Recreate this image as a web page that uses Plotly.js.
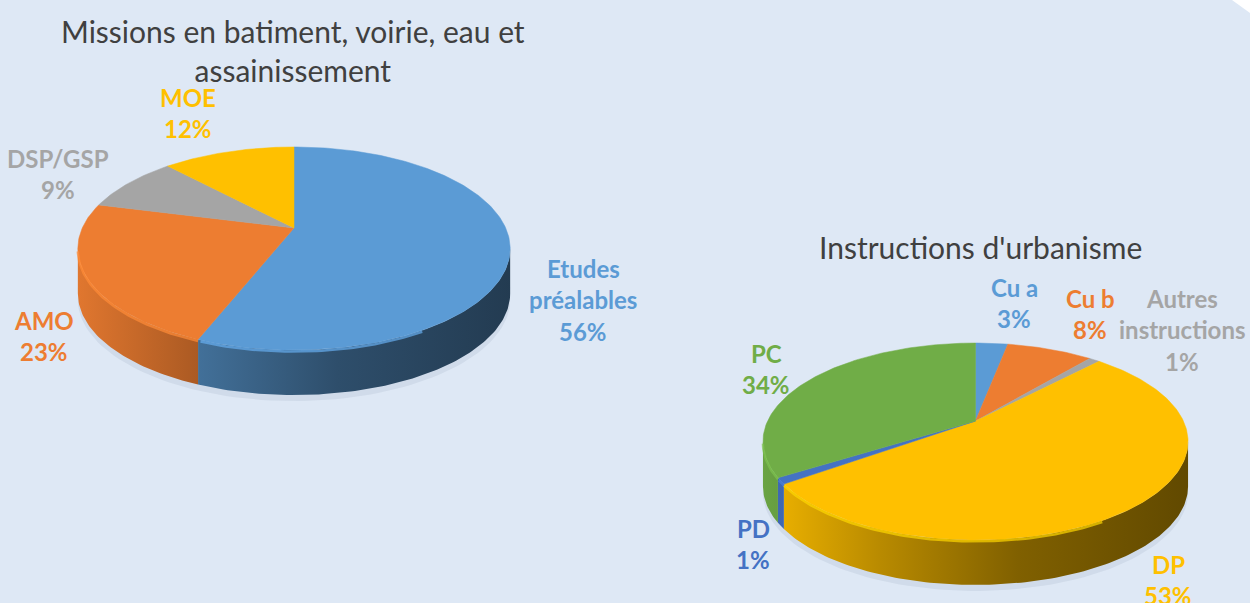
<!DOCTYPE html>
<html>
<head>
<meta charset="utf-8">
<script src="https://cdn.plot.ly/plotly-3.0.1.min.js"></script>
<style>html,body{margin:0;padding:0;background:#dee8f5;} #chart{width:1250px;height:603px;}</style>
</head>
<body>
<div id="chart"></div>
<script>
// ---- data ----
const title1 = 'Missions en batiment, voirie, eau et<br>assainissement';
const title2 = "Instructions d'urbanisme";
const pie1Labels = ['Etudes préalables', 'AMO', 'DSP/GSP', 'MOE'];
const pie1Values = [56, 23, 9, 12];
const pie2Labels = ['Cu a', 'Cu b', 'Autres instructions', 'DP', 'PD', 'PC'];
const pie2Values = [3, 8, 1, 53, 1, 34];

// ---- styles / geometry ----
const pie1Colors = ['#5b9bd5', '#ed7d31', '#a5a5a5', '#ffc000'];
const pie2Colors = ['#5b9bd5', '#ed7d31', '#a5a5a5', '#ffc000', '#4472c4', '#70ad47'];
const geo1 = {cx: 294, cy: 228, a: 211.7, b: 97.4, k: 0.202, depth: 45};
const geo2 = {cx: 975.5, cy: 421, a: 207.9, b: 94.2, k: 0.208, depth: 45};
// label anchor positions (centre x, first line y) per slice
const pos1 = [[583, 268], [44, 320], [58, 158], [188, 97]];
const pos2 = [[1014, 287], [1090, 298], [1182, 298], [1168, 564], [753, 528], [766, 353]];
const lineGap = 31.5;
const labelFont = 'Lato, "Open Sans", sans-serif';

function hexToRgb(h) { return [parseInt(h.substr(1,2),16), parseInt(h.substr(3,2),16), parseInt(h.substr(5,2),16)]; }
function shade(h, f) { const c = hexToRgb(h).map(v => Math.round(Math.min(255, v * f))); return 'rgb(' + c.join(',') + ')'; }

function pt(g, deg, dy) {
  const t = deg * Math.PI / 180, u = Math.sin(t), v = Math.cos(t), d = 1 + g.k * v;
  return [g.cx + g.a * u / d, g.cy - g.b * v / d + (dy || 0)];
}

const traces = [];
const annotations = [];

function buildPie(values, labels, colors, g, pos) {
  const total = values.reduce((s, v) => s + v, 0);
  const vis0 = 90 + Math.asin(g.k) * 180 / Math.PI, vis1 = 270 - Math.asin(g.k) * 180 / Math.PI;
  const xmin = g.cx - g.a * 1.03, xmax = g.cx + g.a * 1.03;
  let acc = 0;
  const sides = [], tops = [], rims = [];
  values.forEach((v, i) => {
    const t0 = acc / total * 360, t1 = (acc + v) / total * 360;
    acc += v;
    // top face wedge
    const xs = [g.cx], ys = [g.cy];
    const n = Math.max(2, Math.ceil((t1 - t0) / 1));
    for (let j = 0; j <= n; j++) { const p = pt(g, t0 + (t1 - t0) * j / n); xs.push(p[0]); ys.push(p[1]); }
    xs.push(g.cx); ys.push(g.cy);
    tops.push({type: 'scatter', mode: 'lines', x: xs, y: ys, fill: 'toself', fillcolor: colors[i],
      line: {width: 0.5, color: colors[i]}, hoverinfo: 'text', text: labels[i] + ': ' + v + '%', showlegend: false});
    // side wall
    const s0 = Math.max(t0, vis0), s1 = Math.min(t1, vis1);
    if (s1 > s0) {
      const sx = [], sy = [];
      const m = Math.max(2, Math.ceil((s1 - s0) / 1));
      for (let j = 0; j <= m; j++) { const p = pt(g, s0 + (s1 - s0) * j / m); sx.push(p[0]); sy.push(p[1]); }
      for (let j = m; j >= 0; j--) { const p = pt(g, s0 + (s1 - s0) * j / m, g.depth); sx.push(p[0]); sy.push(p[1]); }
      sx.push(sx[0]); sy.push(sy[0]);
      sides.push({type: 'scatter', mode: 'lines', x: sx, y: sy, fill: 'toself',
        fillgradient: {type: 'horizontal', start: xmin, stop: xmax,
          colorscale: [[0, shade(colors[i], 0.95)], [0.28, shade(colors[i], 0.72)], [0.6, shade(colors[i], 0.5)], [1, shade(colors[i], 0.38)]]},
        line: {width: 0}, hoverinfo: 'skip', showlegend: false});
    }
    // light rim on the front-left top edge
    const r0 = Math.max(t0, 150), r1 = Math.min(t1, vis1);
    if (r1 > r0) {
      const rx = [], ry = [];
      for (let d = r0; d <= r1 + 0.01; d += 1) { const p = pt(g, Math.min(d, r1), 1.5); rx.push(p[0]); ry.push(p[1]); }
      rims.push({type: 'scatter', mode: 'lines', x: rx, y: ry, line: {width: 2.5, color: shade(colors[i], 1.12)},
        opacity: 0.7, hoverinfo: 'skip', showlegend: false});
    }
    // labels
    const words = labels[i].length > 12 ? labels[i].split(' ') : [labels[i]];
    const lines = words.concat([Math.round(v / total * 100) + '%']);
    lines.forEach((ln, j) => {
      annotations.push({x: pos[i][0], y: pos[i][1] + j * lineGap, xref: 'x', yref: 'y', text: '<b>' + ln + '</b>',
        showarrow: false, xanchor: 'center', yanchor: 'middle', font: {family: labelFont, size: 24, color: colors[i]}});
    });
  });
  // soft shadow under pie
  const shx = [], shy = [];
  for (let d = 95; d <= 265; d += 2) { const p = pt(g, d, g.depth + 6); shx.push(p[0]); shy.push(p[1]); }
  for (let d = 265; d >= 95; d -= 2) { const p = pt(g, d, g.depth - 4); shx.push(p[0]); shy.push(p[1]); }
  traces.push({type: 'scatter', mode: 'lines', x: shx, y: shy, fill: 'toself', fillcolor: 'rgba(90,110,140,0.10)',
    line: {width: 0}, hoverinfo: 'skip', showlegend: false});
  traces.push(...sides, ...tops, ...rims);
}

buildPie(pie1Values, pie1Labels, pie1Colors, geo1, pos1);
buildPie(pie2Values, pie2Labels, pie2Colors, geo2, pos2);

annotations.push({x: 293, y: 50, xref: 'x', yref: 'y', text: title1, showarrow: false, xanchor: 'center', yanchor: 'middle',
  font: {family: labelFont, size: 30, color: '#404040'}});
annotations.push({x: 980, y: 247, xref: 'x', yref: 'y', text: title2, showarrow: false, xanchor: 'center', yanchor: 'middle',
  font: {family: labelFont, size: 30, color: '#404040'}});

const layout = {
  width: 1250, height: 603, autosize: false,
  margin: {l: 0, r: 0, t: 0, b: 0, pad: 0},
  paper_bgcolor: '#dee8f5', plot_bgcolor: '#dee8f5',
  xaxis: {range: [0, 1250], visible: false, fixedrange: true},
  yaxis: {range: [603, 0], visible: false, fixedrange: true},
  showlegend: false,
  annotations: annotations,
  shapes: [{type: 'path', xref: 'x', yref: 'y', path: 'M 1232 0 L 1250 0 L 1250 13 Z',
    fillcolor: '#ffffff', line: {width: 0}}]
};

Plotly.newPlot('chart', traces, layout, {displayModeBar: false, staticPlot: true});
</script>
</body>
</html>
